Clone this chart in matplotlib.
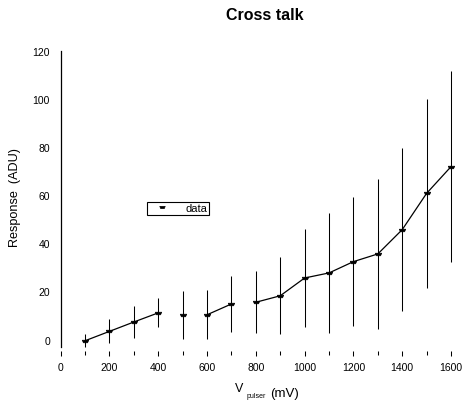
import matplotlib
matplotlib.use("Agg")
import matplotlib.pyplot as plt
from matplotlib.ticker import MultipleLocator
from matplotlib.path import Path

# Measured cross-talk response versus pulser voltage
v_pulser = [100, 200, 300, 400, 500, 600, 700, 800, 900, 1000, 1100, 1200, 1300, 1400, 1500, 1600]
response = [-0.5, 3.4, 7.3, 11.1, 10.1, 10.3, 14.8, 15.5, 18.2, 25.6, 27.7, 32.4, 35.6, 45.7, 60.8, 71.9]
response_err = [2.7, 5.0, 6.5, 6.0, 10.0, 10.1, 11.6, 12.8, 16.0, 20.4, 25.0, 26.9, 31.2, 33.9, 39.2, 39.8]
# whether consecutive points are joined by the connecting line
joined = [True, True, True, False, False, True, False, True, True, True, True, True, True, True, True]

x_ticks = [0, 200, 400, 600, 800, 1000, 1200, 1400, 1600]
y_ticks = [0, 20, 40, 60, 80, 100, 120]

plt.rcParams["font.family"] = ["Liberation Sans", "DejaVu Sans"]

W, H = 468, 402
fig = plt.figure(figsize=(W / 100, H / 100), dpi=100)
ax = fig.add_axes([60.7 / W, 1 - 354 / H, 402.5 / W, 302 / H])

ax.errorbar(v_pulser, response, yerr=response_err, fmt="none", ecolor="black",
            elinewidth=0.75, capsize=0, zorder=2, clip_on=False)

# connecting line, broken where the points are not joined
run = [0]
for i, j in enumerate(joined):
    if j:
        run.append(i + 1)
    else:
        ax.plot([v_pulser[k] for k in run], [response[k] for k in run],
                color="black", lw=0.9, zorder=3)
        run = [i + 1]
ax.plot([v_pulser[k] for k in run], [response[k] for k in run],
        color="black", lw=0.9, zorder=3)

marker = Path([(-1, 0.4), (1, 0.4), (0.65, -0.4), (-0.65, -0.4), (-1, 0.4)],
              [Path.MOVETO, Path.LINETO, Path.LINETO, Path.LINETO, Path.CLOSEPOLY])
ax.plot(v_pulser, response, ls="none", marker=marker, markersize=4.6,
        markeredgewidth=0.5, color="black", label="data", zorder=4, clip_on=False)

ax.set_xlim(0, 1650)
ax.set_ylim(-5.6, 120)
ax.set_xticks(x_ticks)
ax.xaxis.set_minor_locator(MultipleLocator(100))
ax.set_yticks(y_ticks)

for side in ("top", "right", "bottom"):
    ax.spines[side].set_visible(False)
ax.spines["left"].set_bounds(-3.2, 120)
ax.spines["left"].set_linewidth(0.9)

ax.tick_params(axis="x", which="major", direction="inout", length=3.6, width=0.75,
               labelsize=7.5, pad=4.5)
ax.tick_params(axis="x", which="minor", direction="inout", length=2.2, width=0.75)
ax.tick_params(axis="y", length=0, labelsize=7.5, pad=7.7)

leg = ax.legend(loc="upper left", bbox_to_anchor=(0.2144, 0.501), fontsize=8,
                frameon=True, fancybox=False, framealpha=1, borderpad=0.15,
                handlelength=2.4, handletextpad=0.9, borderaxespad=0,
                markerscale=0.85)
leg.get_frame().set_edgecolor("black")
leg.get_frame().set_linewidth(0.8)

fig.text(265 / W, 1 - 20 / H, "Cross talk", ha="center", va="baseline",
         fontsize=11.5, fontweight="bold")
fig.text(15 / W, 1 - 197.3 / H, "Response  (ADU)", rotation=90, ha="center",
         va="center", fontsize=9.1)
fig.text(235 / W, 1 - 392.5 / H, "V", ha="left", va="baseline", fontsize=9)
fig.text(247 / W, 1 - 398 / H, "pulser", ha="left", va="baseline", fontsize=5)
fig.text(270 / W, 1 - 396.7 / H, "(mV)", ha="left", va="baseline", fontsize=9.5)

fig.savefig("out.png", dpi=100)
